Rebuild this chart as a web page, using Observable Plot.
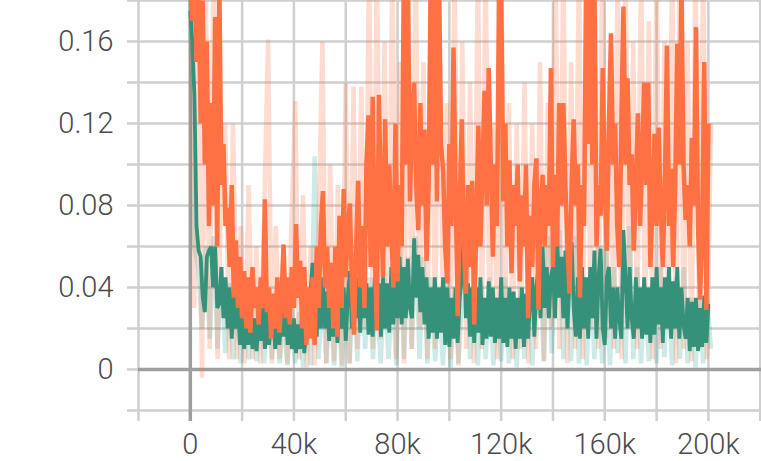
<!DOCTYPE html>
<html><head><meta charset="utf-8">
<script src="https://cdn.jsdelivr.net/npm/d3@7"></script>
<script src="https://cdn.jsdelivr.net/npm/@observablehq/plot@0.6"></script>
<style>html,body{margin:0;padding:0;background:#fff;} svg{display:block}</style>
</head><body><div id="chart"></div>
<script>
const smoothStep = 800;
const rawStep = 1500;

const orangeSmooth = [
 0.19,0.17,0.19,0.15,0.19,0.12,0.18,0.10,0.16,0.07,0.13,0.08,0.172,0.06,0.19,0.09,0.11,0.07,0.079,0.05,0.09,0.035,0.063,0.03,0.055,
 0.025,0.048,0.02,0.045,0.018,0.05,0.03,0.04,0.022,0.045,0.03,0.083,0.028,0.04,0.015,0.037,0.02,0.045,0.018,0.035,0.061,0.025,0.045,0.022,0.05,
 0.03,0.071,0.035,0.053,0.02,0.05,0.012,0.04,0.015,0.045,0.012,0.06,0.03,0.07,0.087,0.04,0.06,0.03,0.052,0.02,0.06,0.016,0.075,0.03,0.088,
 0.045,0.07,0.081,0.04,0.017,0.06,0.092,0.04,0.07,0.03,0.1,0.124,0.05,0.133,0.06,0.019,0.134,0.08,0.045,0.122,0.06,0.1,0.069,0.04,0.12,
 0.043,0.09,0.06,0.19,0.1,0.19,0.082,0.12,0.14,0.09,0.068,0.13,0.08,0.117,0.053,0.09,0.19,0.1,0.19,0.082,0.19,0.11,0.097,0.06,0.042,
 0.11,0.07,0.157,0.09,0.026,0.08,0.122,0.06,0.037,0.09,0.05,0.092,0.022,0.07,0.119,0.06,0.1,0.136,0.08,0.147,0.1,0.055,0.1,0.07,0.19,
 0.19,0.082,0.12,0.06,0.102,0.047,0.09,0.07,0.1,0.043,0.085,0.06,0.1,0.025,0.075,0.05,0.09,0.103,0.029,0.08,0.095,0.06,0.09,0.07,0.147,
 0.05,0.095,0.06,0.13,0.08,0.13,0.09,0.06,0.037,0.09,0.122,0.08,0.1,0.035,0.09,0.07,0.19,0.11,0.19,0.1,0.19,0.06,0.09,0.075,0.147,
 0.09,0.058,0.12,0.164,0.1,0.12,0.07,0.05,0.12,0.177,0.1,0.142,0.09,0.105,0.058,0.09,0.125,0.07,0.1,0.14,0.09,0.14,0.05,0.08,0.115,
 0.07,0.118,0.08,0.05,0.09,0.158,0.07,0.098,0.05,0.09,0.159,0.1,0.19,0.1,0.073,0.09,0.06,0.113,0.08,0.167,0.07,0.034,0.07,0.15,0.029,0.12];

const tealSmooth = [
 0.175,0.16,0.133,0.07,0.058,0.055,0.035,0.028,0.055,0.058,0.06,0.04,0.06,0.03,0.032,0.05,0.025,0.045,0.02,0.04,0.015,0.038,0.02,0.032,0.012,
 0.03,0.01,0.028,0.012,0.032,0.01,0.025,0.009,0.028,0.014,0.035,0.01,0.03,0.012,0.022,0.028,0.01,0.03,0.012,0.028,0.016,0.032,0.012,0.03,0.01,
 0.025,0.008,0.022,0.01,0.028,0.008,0.02,0.025,0.038,0.052,0.045,0.016,0.045,0.02,0.045,0.02,0.038,0.014,0.035,0.016,0.04,0.013,0.034,0.02,0.04,
 0.014,0.035,0.048,0.02,0.05,0.025,0.045,0.018,0.05,0.025,0.042,0.017,0.04,0.016,0.045,0.02,0.042,0.016,0.045,0.02,0.042,0.018,0.05,0.022,0.056,
 0.025,0.055,0.022,0.05,0.025,0.054,0.03,0.025,0.064,0.035,0.056,0.028,0.05,0.022,0.045,0.015,0.04,0.018,0.045,0.015,0.04,0.018,0.045,0.012,0.04,
 0.011,0.035,0.015,0.04,0.013,0.035,0.045,0.067,0.025,0.042,0.016,0.04,0.013,0.04,0.018,0.045,0.012,0.035,0.015,0.043,0.016,0.04,0.013,0.035,0.015,
 0.045,0.013,0.035,0.011,0.04,0.015,0.038,0.01,0.035,0.015,0.04,0.011,0.037,0.015,0.035,0.045,0.016,0.04,0.05,0.025,0.06,0.03,0.05,0.025,0.045,
 0.05,0.025,0.065,0.035,0.055,0.025,0.058,0.02,0.045,0.062,0.03,0.016,0.045,0.015,0.05,0.02,0.045,0.015,0.05,0.025,0.058,0.015,0.045,0.059,0.02,
 0.012,0.045,0.05,0.02,0.04,0.015,0.04,0.025,0.015,0.068,0.045,0.02,0.05,0.025,0.015,0.045,0.02,0.04,0.015,0.045,0.017,0.04,0.013,0.045,0.017,
 0.05,0.022,0.04,0.013,0.045,0.02,0.05,0.015,0.043,0.02,0.05,0.015,0.04,0.022,0.015,0.035,0.009,0.033,0.011,0.035,0.009,0.03,0.011,0.036,0.013,0.032];

const orangeRaw = [0.2,0.03,0.2,-0.004,0.18,0.01,0.2,0.005,0.09,0.12,
 0.005,0.12,0.005,0.07,0.003,0.09,0.005,0.06,0.003,0.075,
 0.161,0.003,0.07,0.005,0.06,0.003,0.07,0.131,0.005,0.085,
 0.001,0.06,0.002,0.07,0.16,0.003,0.1,0.004,0.09,0.002,
 0.14,0.003,0.138,0.01,0.138,0.02,0.2,0.01,0.2,0.015,
 0.16,0.02,0.2,0.005,0.15,0.003,0.2,0.01,0.2,0.02,
 0.15,0.005,0.2,0.01,0.2,0.02,0.13,0.005,0.2,0.002,
 0.16,0.01,0.14,0.003,0.2,0.01,0.2,0.02,0.12,0.005,
 0.2,0.02,0.13,0.005,0.12,0.01,0.14,0.003,0.12,0.01,
 0.15,0.004,0.13,0.02,0.2,0.01,0.2,0.003,0.15,0.01,
 0.2,0.005,0.2,0.02,0.2,0.01,0.2,0.015,0.15,0.01,
 0.2,0.005,0.2,0.02,0.16,0.01,0.2,0.02,0.17,0.005,
 0.2,0.01,0.16,0.02,0.2,0.003,0.2,0.01,0.16,0.004,
 0.2,0.01,0.2,0.005,0.12];

const tealRaw = [0.18,0.06,0.05,0.02,0.06,0.015,0.065,0.01,0.05,0.008,
 0.042,0.005,0.035,0.003,0.03,0.005,0.032,0.004,0.028,0.003,
 0.03,0.005,0.03,0.003,0.025,0.002,0.03,0.003,0.028,0.001,
 0.03,0.002,0.104,0.005,0.04,0.003,0.035,0.002,0.035,0.001,
 0.04,0.003,0.05,0.004,0.055,0.01,0.045,0.005,0.04,0.003,
 0.045,0.005,0.04,0.002,0.06,0.005,0.055,0.01,0.065,0.005,
 0.055,0.003,0.045,0.004,0.04,0.002,0.045,0.001,0.04,0.003,
 0.035,0.07,0.005,0.045,0.002,0.04,0.005,0.045,0.002,0.035,
 0.004,0.045,0.003,0.035,0.001,0.04,0.005,0.04,0.002,0.035,
 0.045,0.004,0.065,0.008,0.05,0.068,0.005,0.06,0.004,0.065,
 0.003,0.045,0.002,0.05,0.005,0.06,0.003,0.06,0.002,0.05,
 0.008,0.04,0.003,0.07,0.005,0.05,0.003,0.04,0.004,0.045,
 0.003,0.05,0.006,0.04,0.002,0.045,0.005,0.05,0.003,0.035,
 0.001,0.035,0.003,0.035,0.01];

const xGrid = [-20000,0,20000,40000,60000,80000,100000,120000,140000,160000,180000,200000,220000];
const yGrid = [-0.02,0,0.02,0.04,0.06,0.08,0.10,0.12,0.14,0.16,0.18];
const xTicks = [0,40000,80000,120000,160000,200000];
const xTickLabels = ["0","40k","80k","120k","160k","200k"];
const yTicks = [0,0.04,0.08,0.12,0.16];
const yTickLabels = ["0","0.04","0.08","0.12","0.16"];

const xLab = new Map(xTicks.map((v,i)=>[v,xTickLabels[i]]));
const yLab = new Map(yTicks.map((v,i)=>[v,yTickLabels[i]]));
const rows = (vals, s) => vals.map((v,i)=>({step:i*s, value:v}));

const lineOpts = {x:"step", y:"value", curve:"linear", clip:true, strokeLinejoin:"miter", strokeLinecap:"butt"};

const chart = Plot.plot({
  width: 761, height: 461,
  marginLeft: 138, marginRight: 0, marginTop: 0, marginBottom: 51,
  style: {fontFamily: "'Roboto Light', Roboto, sans-serif", fontSize: "29px", fontWeight: 300, color: "#4a4a4f", background: "#fff"},
  x: {domain: [-20000, 220500], label: null},
  y: {domain: [-0.02, 0.18], label: null},
  marks: [
    Plot.ruleX(xGrid, {stroke: "#cfcfcf", strokeWidth: 2.5, insetBottom: -11}),
    Plot.ruleY(yGrid, {stroke: "#cfcfcf", strokeWidth: 2.5, insetLeft: -11}),
    Plot.axisX(xTicks, {tickSize: 0, tickPadding: 23, tickFormat: d => xLab.get(d), label: null}),
    Plot.axisY(yTicks, {tickSize: 0, tickPadding: 25, tickFormat: d => yLab.get(d), label: null}),
    Plot.ruleY([0], {stroke: "#9e9e9e", strokeWidth: 3.5}),
    Plot.ruleX([0], {stroke: "#9e9e9e", strokeWidth: 3.5, insetBottom: -11}),
    Plot.line(rows(tealRaw, rawStep), {...lineOpts, stroke: "#009688", strokeOpacity: 0.2, strokeWidth: 4.5}),
    Plot.line(rows(orangeRaw, rawStep), {...lineOpts, stroke: "#ff7043", strokeOpacity: 0.25, strokeWidth: 4.5}),
    Plot.line(rows(tealSmooth, smoothStep), {...lineOpts, stroke: "#35917a", strokeWidth: 3.8}),
    Plot.line(rows(orangeSmooth, smoothStep), {...lineOpts, stroke: "#ff7043", strokeWidth: 4.5})
  ]
});
document.getElementById("chart").appendChild(chart);
</script>
</body></html>
